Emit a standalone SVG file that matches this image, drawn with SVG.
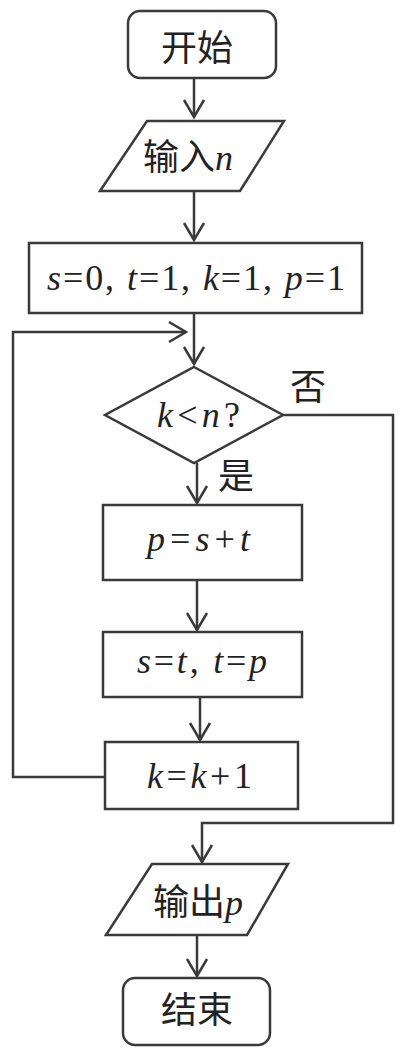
<svg xmlns="http://www.w3.org/2000/svg" width="405" height="1054" viewBox="0 0 405 1054">
<defs>
<style>
.s{fill:#fff;stroke:#3a3a3a;stroke-width:2.5}
.c{fill:none;stroke:#3a3a3a;stroke-width:2.5}
.cjk{font-family:"Noto Sans CJK SC","Noto Sans",sans-serif;font-size:36px;fill:#222}
.m{font-family:"Liberation Serif",serif;font-style:italic;font-size:36px;fill:#222}
.n{font-style:normal}
</style>
<marker id="a" markerUnits="userSpaceOnUse" markerWidth="30" markerHeight="30" viewBox="-20 -15 30 30" refX="0" refY="0" orient="auto">
<path d="M-17,-10 L0,0 L-17,10" fill="none" stroke="#3a3a3a" stroke-width="2.5"/>
</marker>
</defs>
<g id="connectors">
<line class="c" x1="194" y1="78" x2="194" y2="117" marker-end="url(#a)"/>
<line class="c" x1="194" y1="191" x2="194" y2="240" marker-end="url(#a)"/>
<line class="c" x1="194" y1="313" x2="194" y2="364" marker-end="url(#a)"/>
<polyline class="c" points="105,777 13,777 13,332 186,332" marker-end="url(#a)"/>
<line class="c" x1="197" y1="463" x2="197" y2="503" marker-end="url(#a)"/>
<line class="c" x1="197" y1="580" x2="197" y2="630" marker-end="url(#a)"/>
<line class="c" x1="200" y1="697" x2="200" y2="740" marker-end="url(#a)"/>
<polyline class="c" points="283,415 393,415 393,823 202,823 202,862" marker-end="url(#a)"/>
<line class="c" x1="197" y1="935" x2="197" y2="976" marker-end="url(#a)"/>
<text class="cjk" x="290" y="400">否</text>
<text class="cjk" x="218" y="489">是</text>
</g>
<g id="start">
<rect class="s" x="128" y="11" width="148" height="67" rx="12"/>
<text class="cjk" x="197" y="61" text-anchor="middle">开始</text>
</g>
<g id="input">
<polygon class="s" points="147,121 284,121 240,191 100,191"/>
<text x="143" y="170"><tspan class="cjk">输入</tspan><tspan class="m">n</tspan></text>
</g>
<g id="init">
<rect class="s" x="29" y="243" width="333" height="70"/>
<text class="m" x="47" y="290" textLength="298" lengthAdjust="spacing">s<tspan class="n">=0, </tspan>t<tspan class="n">=1, </tspan>k<tspan class="n">=1,  </tspan>p<tspan class="n">=1</tspan></text>
</g>
<g id="cond">
<polygon class="s" points="194,367 283,415 194,463 105,415"/>
<text class="m" x="157" y="427" textLength="83" lengthAdjust="spacing">k<tspan class="n">&lt;</tspan>n<tspan class="n">?</tspan></text>
</g>
<g id="p1">
<rect class="s" x="103" y="505" width="199" height="75"/>
<text class="m" x="147" y="551" textLength="103" lengthAdjust="spacing">p<tspan class="n">=</tspan>s<tspan class="n">+</tspan>t</text>
</g>
<g id="p2">
<rect class="s" x="103" y="632" width="199" height="65"/>
<text class="m" x="137" y="673" textLength="130" lengthAdjust="spacing">s<tspan class="n">=</tspan>t<tspan class="n">, </tspan>t<tspan class="n">=</tspan>p</text>
</g>
<g id="p3">
<rect class="s" x="105" y="742" width="193" height="67"/>
<text class="m" x="147" y="788" textLength="105" lengthAdjust="spacing">k<tspan class="n">=</tspan>k<tspan class="n">+1</tspan></text>
</g>
<g id="output">
<polygon class="s" points="152,864 288,864 247,935 106,935"/>
<text x="153" y="915"><tspan class="cjk">输出</tspan><tspan class="m">p</tspan></text>
</g>
<g id="end">
<rect class="s" x="123" y="978" width="147" height="67" rx="12"/>
<text class="cjk" x="197" y="1023" text-anchor="middle">结束</text>
</g>
</svg>
